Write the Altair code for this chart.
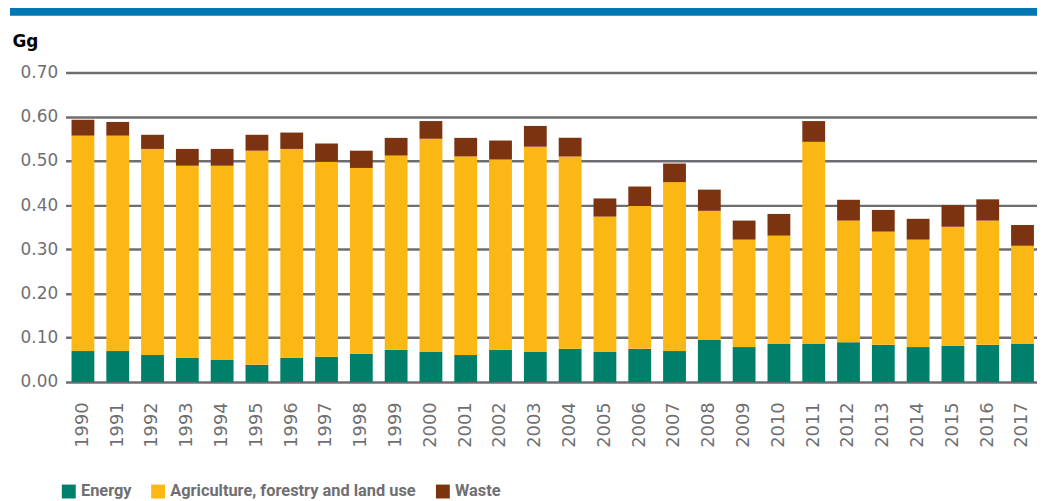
import altair as alt
import pandas as pd

years = [str(y) for y in range(1990, 2018)]
energy = [0.070, 0.070, 0.061, 0.055, 0.050, 0.039, 0.055, 0.057, 0.064, 0.073,
          0.068, 0.061, 0.073, 0.068, 0.075, 0.068, 0.075, 0.070, 0.095, 0.079,
          0.086, 0.086, 0.090, 0.084, 0.079, 0.082, 0.084, 0.086]
agri_top = [0.557, 0.557, 0.527, 0.489, 0.489, 0.523, 0.527, 0.498, 0.484, 0.512,
            0.550, 0.510, 0.503, 0.532, 0.510, 0.374, 0.398, 0.452, 0.387, 0.322,
            0.331, 0.543, 0.365, 0.340, 0.322, 0.351, 0.365, 0.308]
totals = [0.593, 0.588, 0.559, 0.527, 0.527, 0.559, 0.564, 0.539, 0.523, 0.552,
          0.590, 0.552, 0.546, 0.579, 0.552, 0.415, 0.442, 0.494, 0.435, 0.365,
          0.380, 0.590, 0.412, 0.389, 0.369, 0.400, 0.413, 0.355]
agri = [round(a - e, 3) for a, e in zip(agri_top, energy)]
waste = [round(t - a, 3) for t, a in zip(totals, agri_top)]

sectors = ["Energy", "Agriculture, forestry and land use", "Waste"]
colors = ["#00806b", "#fbb814", "#7c3410"]
y_ticks = [0.0, 0.1, 0.2, 0.3, 0.4, 0.5, 0.6, 0.7]

rows = []
for i, yr in enumerate(years):
    for k, (name, vals) in enumerate(zip(sectors, [energy, agri, waste])):
        rows.append({"year": yr, "sector": name, "value": vals[i], "order": k})
df = pd.DataFrame(rows)

W = 979
H = 312

bars = alt.Chart(df).mark_bar().encode(
    x=alt.X("year:N", sort=years,
            scale=alt.Scale(paddingInner=0.344, paddingOuter=0.13, align=0.66),
            axis=alt.Axis(title=None, labelAngle=-90, labelFontSize=18,
                          labelFont="DejaVu Sans", labelColor="#6f6f72",
                          ticks=False, domain=False, labelPadding=20)),
    y=alt.Y("value:Q", stack="zero",
            scale=alt.Scale(domain=[0, 0.7], nice=False),
            axis=alt.Axis(values=y_ticks, format=".2f", title="Gg",
                          titleAngle=0, titleAlign="left", titleBaseline="alphabetic",
                          titleX=-54, titleY=-26, titleFont="DejaVu Sans",
                          titleFontSize=17, titleFontWeight="bold", titleColor="#000000",
                          labelFont="DejaVu Sans", labelFontSize=17, labelColor="#6f6f72",
                          labelPadding=8, ticks=False, domain=False,
                          grid=True, gridColor="#6e6e72", gridWidth=2.5)),
    color=alt.Color("sector:N", scale=alt.Scale(domain=sectors, range=colors),
                    legend=alt.Legend(title=None, orient="none", direction="horizontal",
                                      legendX=-5, legendY=414,
                                      symbolType="square", symbolSize=196,
                                      symbolStrokeWidth=0, symbolOpacity=1,
                                      labelFont="Roboto",
                                      labelFontSize=16.5, labelFontWeight="bold",
                                      labelColor="#6f6f72", labelOffset=4,
                                      labelLimit=0, columnPadding=18)),
    order=alt.Order("order:Q"),
)

band = alt.Chart(pd.DataFrame({"a": [0]})).mark_rule(color="#0077b3", strokeWidth=8).encode(
    x=alt.value(-56), x2=alt.value(W), y=alt.value(-61)
)

chart = alt.layer(band, bars).properties(
    width=W, height=H,
    autosize=alt.AutoSizeParams(type="none"),
    padding={"left": 58, "top": 63, "right": 0, "bottom": 118},
).configure_view(stroke=None)

chart.save("out.html", embed_options={"renderer": "svg", "actions": False})
